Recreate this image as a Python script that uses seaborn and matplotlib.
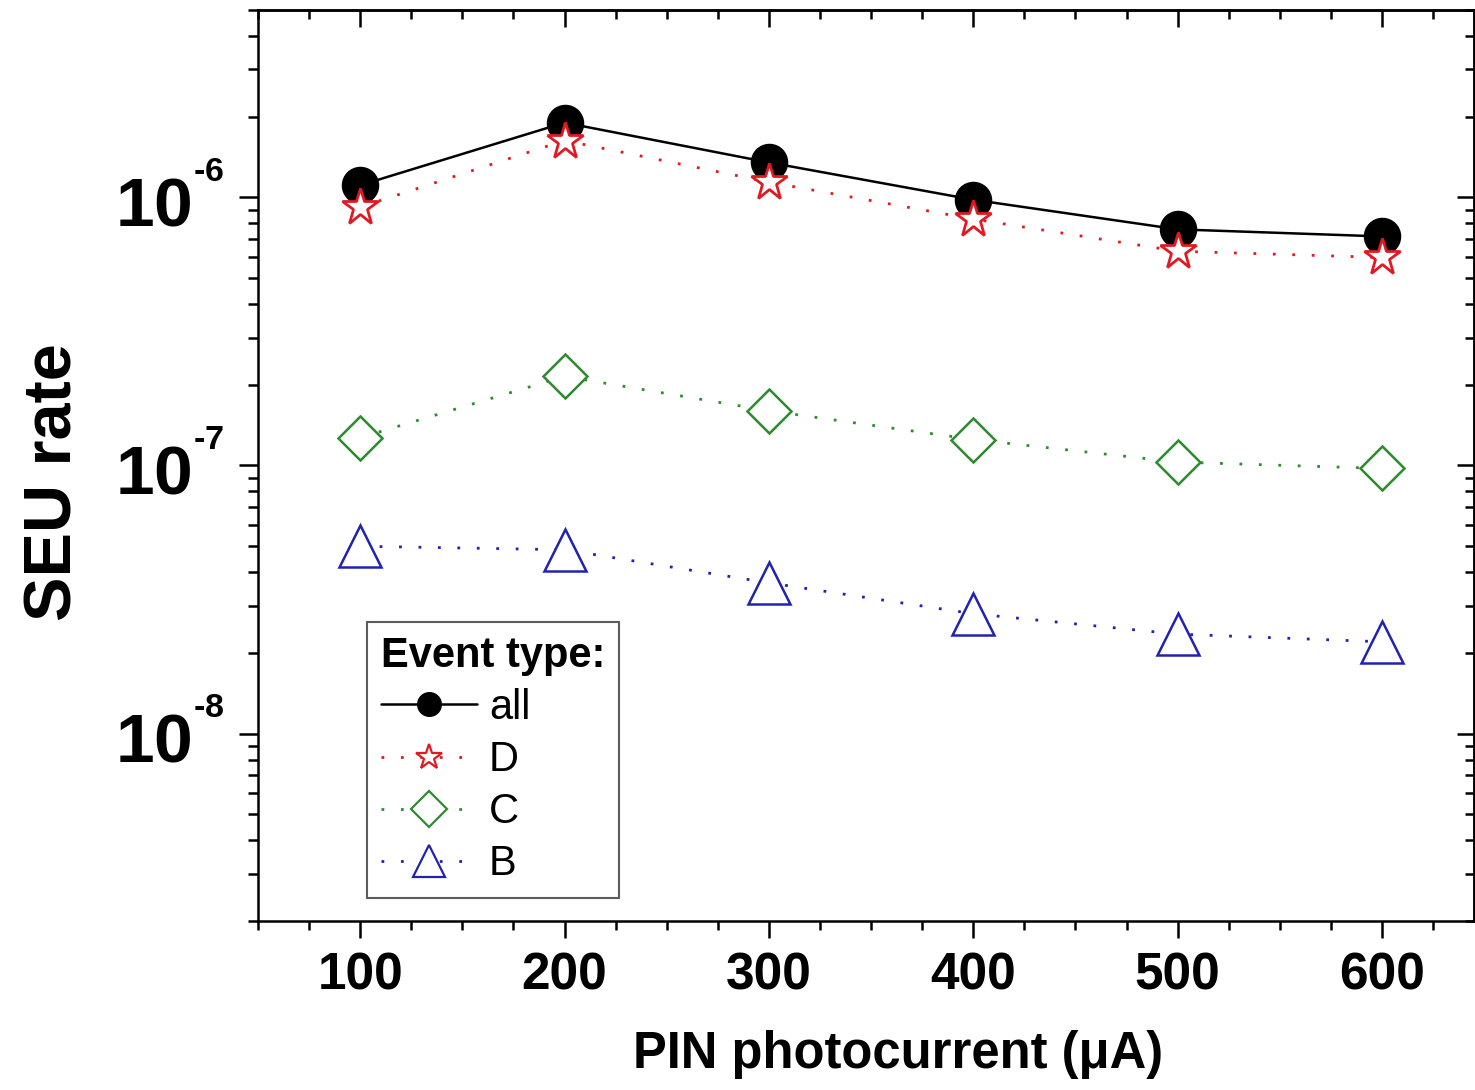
import matplotlib
matplotlib.use("Agg")
import matplotlib.pyplot as plt
import matplotlib.ticker as mticker
from matplotlib.lines import Line2D
import seaborn as sns
import numpy as np

# ---------------- data ----------------
photocurrent = [100, 200, 300, 400, 500, 600]
rate_all = [1.11e-6, 1.90e-6, 1.35e-6, 9.8e-7, 7.6e-7, 7.15e-7]
rate_D = [9.2e-7, 1.63e-6, 1.14e-6, 8.3e-7, 6.3e-7, 5.97e-7]
rate_C = [1.27e-7, 2.15e-7, 1.60e-7, 1.25e-7, 1.03e-7, 9.75e-8]
rate_B = [5.0e-8, 4.85e-8, 3.65e-8, 2.8e-8, 2.35e-8, 2.2e-8]
series_labels = ["all", "D", "C", "B"]
legend_title = "Event type:"
xlabel = "PIN photocurrent (\u03bcA)"
ylabel = "SEU rate"

# ---------------- style ----------------
sns.set_theme(style="ticks")
plt.rcParams["font.family"] = ["Liberation Sans", "DejaVu Sans"]
plt.rcParams["font.weight"] = "bold"
plt.rcParams["mathtext.fontset"] = "custom"
plt.rcParams["mathtext.rm"] = "Liberation Sans:bold"
plt.rcParams["mathtext.bf"] = "Liberation Sans:bold"
for k in ["text.color", "axes.labelcolor", "xtick.color", "ytick.color", "axes.edgecolor"]:
    plt.rcParams[k] = "black"

RED = "#e01a22"
GREEN = "#2e8b2e"
BLUE = "#2222b0"
DOT = (0, (1, 6))

fig = plt.figure(figsize=(14.75, 10.9), dpi=100)
ax = fig.add_axes([258 / 1475, 1 - 921 / 1090, (1474 - 258) / 1475, (921 - 10) / 1090])

common = dict(ax=ax, legend=False, errorbar=None)
sns.lineplot(x=photocurrent, y=rate_all, color="black", linewidth=1.8,
             marker="o", markersize=26, markerfacecolor="black",
             markeredgecolor="black", markeredgewidth=1.0, **common)
sns.lineplot(x=photocurrent, y=rate_D, color=RED, linewidth=2.0, linestyle=DOT,
             marker="*", markersize=28, markerfacecolor="white",
             markeredgecolor=RED, markeredgewidth=2.0, **common)
sns.lineplot(x=photocurrent, y=rate_C, color=GREEN, linewidth=2.0, linestyle=DOT,
             marker="D", markersize=22, markerfacecolor="white",
             markeredgecolor=GREEN, markeredgewidth=1.8, **common)
sns.lineplot(x=photocurrent, y=rate_B, color=BLUE, linewidth=2.0, linestyle=DOT,
             marker="^", markersize=30, markerfacecolor="white",
             markeredgecolor=BLUE, markeredgewidth=1.8, **common)

ax.set_yscale("log")
ax.set_xlim(50, 645)
ax.set_ylim(2e-9, 5e-6)

# spines
for s in ax.spines.values():
    s.set_visible(True)
    s.set_linewidth(1.8)
    s.set_color("black")

# x ticks
ax.xaxis.set_major_locator(mticker.MultipleLocator(100))
ax.xaxis.set_minor_locator(mticker.MultipleLocator(25))
ax.tick_params(axis="x", which="major", direction="out", length=12, width=1.8,
               labelsize=37, pad=10, color="black", bottom=True, top=False)
ax.tick_params(axis="x", which="minor", direction="out", length=6.5, width=1.8,
               bottom=True, top=False, color="black")

# y ticks
ax.yaxis.set_major_locator(mticker.LogLocator(base=10, numticks=10))
ax.yaxis.set_minor_locator(mticker.LogLocator(base=10, subs=np.arange(2, 10), numticks=20))
ax.yaxis.set_minor_formatter(mticker.NullFormatter())
ax.yaxis.set_major_formatter(mticker.FuncFormatter(
    lambda v, p: r"$\mathbf{10}^{{}^{\mathbf{\text{-}%d}}}$" % abs(int(round(np.log10(v))))))
ax.tick_params(axis="y", which="major", direction="out", length=14, width=1.8,
               labelsize=50, pad=10, color="black", left=True, right=False)
ax.tick_params(axis="y", which="minor", direction="out", length=7, width=1.8,
               left=True, right=False, color="black")

# mirrored ticks on top / right pointing inward
top = ax.secondary_xaxis("top")
top.xaxis.set_major_locator(mticker.MultipleLocator(100))
top.xaxis.set_minor_locator(mticker.MultipleLocator(25))
top.tick_params(axis="x", which="major", direction="in", length=12, width=1.8,
                labeltop=False, color="black")
top.tick_params(axis="x", which="minor", direction="in", length=6.5, width=1.8,
                labeltop=False, color="black")
top.spines["top"].set_linewidth(1.8)

right = ax.secondary_yaxis("right")
right.yaxis.set_major_locator(mticker.LogLocator(base=10, numticks=10))
right.yaxis.set_minor_locator(mticker.LogLocator(base=10, subs=np.arange(2, 10), numticks=20))
right.tick_params(axis="y", which="major", direction="in", length=12, width=1.8,
                  labelright=False, color="black")
right.tick_params(axis="y", which="minor", direction="in", length=6.5, width=1.8,
                  labelright=False, color="black")
right.yaxis.set_minor_formatter(mticker.NullFormatter())
right.spines["right"].set_linewidth(1.8)

# labels
ax.set_xlabel(xlabel, fontsize=36.5, fontweight="bold")
ax.set_ylabel(ylabel, fontsize=48, fontweight="bold")
ax.xaxis.set_label_coords(0.526, -0.12)
ax.yaxis.set_label_coords(-0.142, 0.482)

# legend
handles = [
    Line2D([], [], color="black", linewidth=1.8, marker="o", markersize=17,
           markerfacecolor="black", markeredgecolor="black"),
    Line2D([], [], color=RED, linewidth=2.0, linestyle=DOT, marker="*", markersize=19,
           markerfacecolor="white", markeredgecolor=RED, markeredgewidth=1.6),
    Line2D([], [], color=GREEN, linewidth=2.0, linestyle=DOT, marker="D", markersize=18,
           markerfacecolor="white", markeredgecolor=GREEN, markeredgewidth=1.6),
    Line2D([], [], color=BLUE, linewidth=2.0, linestyle=DOT, marker="^", markersize=23,
           markerfacecolor="white", markeredgecolor=BLUE, markeredgewidth=1.6),
]
leg = ax.legend(handles, series_labels, title=legend_title, loc="lower left",
                bbox_to_anchor=((367 - 258) / 1216, (921 - 898) / 911),
                borderaxespad=0, frameon=True, fancybox=False,
                prop={"size": 30, "weight": "normal"},
                title_fontproperties={"size": 30, "weight": "bold"},
                handlelength=2.3, handletextpad=0.3, labelspacing=0.29,
                borderpad=0.33, alignment="left")
leg.get_frame().set_edgecolor("#333333")
leg.get_frame().set_linewidth(1.5)

fig.savefig("out.png", dpi=100)
